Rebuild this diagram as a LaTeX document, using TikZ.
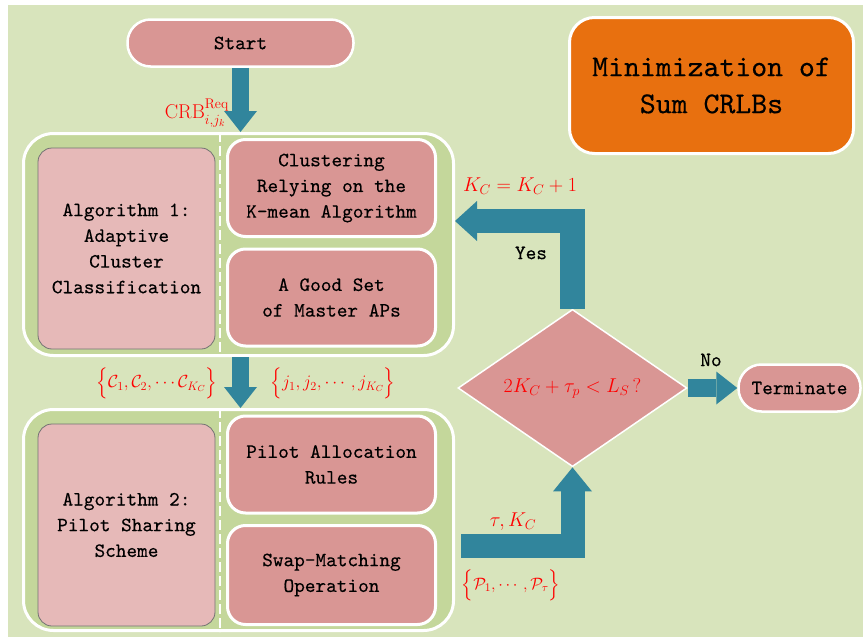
\RequirePackage{fix-cm}
\documentclass[tikz,border=0pt]{standalone}
\usepackage{amsmath}
\usepackage{fontspec}
\newfontfamily\bodyttf{lmmono10-regular.otf}[FakeBold=0.3]
\usetikzlibrary{shapes.geometric,arrows.meta,calc}
\definecolor{bgc}{HTML}{D8E4BC}
\definecolor{outc}{HTML}{C4D79B}
\definecolor{algc}{HTML}{E6B9B8}
\definecolor{stc}{HTML}{D99694}
\definecolor{orc}{HTML}{E8700F}
\definecolor{arc}{HTML}{31859C}
\newcommand\bodyfont{\bodyttf\fontsize{20.3}{25.7}\selectfont}
\newcommand\titlefont{\bodyttf\fontsize{30.3}{37}\selectfont}
\newcommand\mfont{\fontsize{20}{24}\selectfont}
\newcommand\sfontset{\fontsize{17.5}{21}\selectfont}
\newcommand\pfontset{\fontsize{16.5}{20}\selectfont}
\tikzset{
  outerbox/.style={draw=white, line width=3pt, fill=outc, rounded corners=30pt,
    minimum width=430pt, minimum height=222pt, inner sep=0pt},
  algbox/.style={draw=black!55, line width=0.8pt, fill=algc, rounded corners=14pt,
    minimum width=177pt, minimum height=201pt, align=center, font=\bodyfont},
  stepbox/.style={draw=white, line width=3pt, fill=stc, rounded corners=18pt,
    minimum width=208pt, minimum height=97pt, align=center, font=\bodyfont},
  pillbox/.style={draw=white, line width=2.5pt, fill=stc, rounded corners=23pt,
    minimum height=47pt, font=\bodyfont},
  bigarrow/.style={draw=arc, line join=miter},
  lbl/.style={text=red, font=\mfont, inner sep=1pt},
  plain/.style={font=\bodyfont, inner sep=1pt},
}
\begin{document}
\begin{tikzpicture}[x=1pt,y=-1pt]
\useasboundingbox (0,0) rectangle (863,637);
\fill[bgc] (8,5) rectangle (863,637);

% title
\node[draw=white, line width=3pt, fill=orc, rounded corners=25pt,
  minimum width=284pt, minimum height=136pt, align=center, font=\titlefont]
  (title) at (711.5,85.5) {Minimization of\\Sum CRLBs};

% start
\node[pillbox, minimum width=226pt] (start) at (240.5,43) {Start};

% block 1
\node[outerbox] (out1) at (238.5,244.5) {};
\draw[white, line width=2pt, dash pattern=on 10pt off 4pt]
  ([xshift=-18.5pt]out1.north) -- ([xshift=-18.5pt]out1.south);
\node[algbox] (alg1) at (126.5,248.5) {Algorithm 1:\\Adaptive\\Cluster\\Classification};
\node[stepbox] (clus) at (331.5,188) {Clustering\\Relying on the\\K-mean Algorithm};
\node[stepbox] (good) at (331.5,297.5) {A Good Set\\of Master APs};

% block 2
\node[outerbox, minimum height=221pt] (out2) at (238.5,520) {};
\draw[white, line width=2pt, dash pattern=on 10pt off 4pt]
  ([xshift=-18.5pt]out2.north) -- ([xshift=-18.5pt]out2.south);
\node[algbox, minimum height=202pt] (alg2) at (126.5,525) {Algorithm 2:\\Pilot Sharing\\Scheme};
\node[stepbox] (pilot) at (331.5,464.5) {Pilot Allocation\\Rules};
\node[stepbox, minimum height=99pt] (swap) at (331.5,575) {Swap-Matching\\Operation};

% decision
\node[diamond, draw=white, line width=1.5pt, fill=stc, minimum width=229pt,
  minimum height=135pt, inner sep=0pt, text=red, font=\mfont]
  (dia) at (572.5,388) {$2K_C+\tau_p<L_S\,?$};

% terminate
\node[pillbox, minimum width=122pt] (term) at (799.5,388) {Terminate};

% arrows
\draw[bigarrow, line width=17pt, -{Triangle[width=33pt,length=21pt,line width=0pt]}]
  (start.south) -- (start.south |- out1.north);
\draw[bigarrow, line width=17pt, -{Triangle[width=33pt,length=21pt,line width=0pt]}]
  (start.south |- out1.south) -- (start.south |- out2.north);
\coordinate (yk) at (0,221);
\draw[bigarrow, line width=24.5pt, -{Triangle[width=40pt,length=22pt,line width=0pt]}]
  (dia.north) |- (out1.east |- yk);
\draw[bigarrow, line width=18pt, -{Triangle[width=33pt,length=21pt,line width=0pt]}]
  (dia.east) -- (term.west);
\coordinate (tkstart) at (461,546);
\draw[bigarrow, line width=24pt, -{Triangle[width=39pt,length=24pt,line width=0pt]}]
  (tkstart) -| (dia.south);

% labels
\node[lbl, anchor=east] (crb) at (230,113) {$\mathrm{CRB}^{\mathrm{Req}}_{i,j_k}$};
\node[lbl, font=\sfontset] (cset) at (157,383) {$\Big\{\mathcal{C}_1,\mathcal{C}_2,\cdots\mathcal{C}_{K_C}\Big\}$};
\node[lbl, font=\sfontset] (jset) at (333,383) {$\Big\{j_1,j_2,\cdots,j_{K_C}\Big\}$};
\node[lbl] (kinc) at (520,186) {$K_C=K_C+1$};
\node[plain] (yes) at (531,253) {Yes};
\node[plain] (no) at (711,360) {No};
\node[lbl] (tauk) at (513,522) {$\tau,K_C$};
\node[lbl, font=\pfontset] (pset) at (511,585) {$\Big\{\mathcal{P}_1,\cdots,\mathcal{P}_\tau\Big\}$};
\end{tikzpicture}
\end{document}
